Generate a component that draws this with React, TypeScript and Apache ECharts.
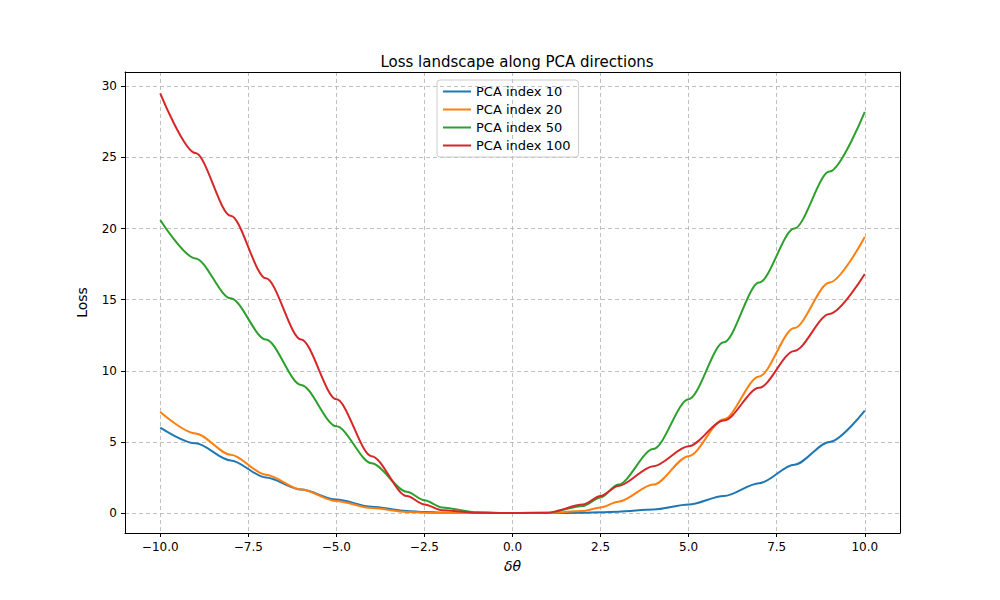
import React, { useEffect, useRef } from "react";
import * as echarts from "echarts";

const xs = [-10, -9, -8, -7, -6, -5, -4, -3, -2.5, -2, -1, 0, 1, 2, 2.5, 3, 4, 5, 6, 7, 8, 9, 10];
const pca10 = [6.0, 4.9, 3.7, 2.5, 1.65, 0.95, 0.45, 0.15, 0.07, 0.03, 0, 0, 0, 0.02, 0.05, 0.1, 0.25, 0.6, 1.2, 2.1, 3.4, 5.0, 7.2];
const pca20 = [7.1, 5.6, 4.1, 2.7, 1.65, 0.85, 0.35, 0.08, 0.02, 0, 0, 0, 0, 0.15, 0.4, 0.8, 2.0, 4.0, 6.6, 9.6, 13.0, 16.2, 19.4];
const pca50 = [20.6, 17.9, 15.1, 12.2, 9.0, 6.1, 3.5, 1.5, 0.9, 0.4, 0.05, 0, 0.02, 0.5, 1.1, 2.0, 4.5, 8.0, 12.0, 16.2, 20.0, 24.0, 28.2];
const pca100 = [29.5, 25.3, 20.9, 16.5, 12.2, 8.0, 4.0, 1.2, 0.6, 0.2, 0.02, 0, 0.03, 0.6, 1.2, 1.9, 3.3, 4.7, 6.5, 8.8, 11.4, 14.0, 16.8];
const xTicks = [-10, -7.5, -5, -2.5, 0, 2.5, 5, 7.5, 10];
const yTicks = [0, 5, 10, 15, 20, 25, 30];

const seriesDefs = [
  { name: "PCA index 10", data: pca10, color: "#1f77b4" },
  { name: "PCA index 20", data: pca20, color: "#ff7f0e" },
  { name: "PCA index 50", data: pca50, color: "#2ca02c" },
  { name: "PCA index 100", data: pca100, color: "#d62728" },
];

const font = "DejaVu Sans";

const App = () => {
  const ref = useRef<HTMLDivElement>(null);

  useEffect(() => {
    const chart = echarts.init(ref.current!, null, { renderer: "svg" });
    const grid = { color: "#b0b0b0", type: [4, 3] as number[], width: 0.8 };
    const frame = {
      type: "value",
      min: -11,
      max: 11,
      axisLine: { show: true, onZero: false, lineStyle: { color: "#000" } },
      axisTick: { show: false },
      axisLabel: { show: false },
      splitLine: { show: false },
    };
    chart.setOption({
      animation: false,
      textStyle: { fontFamily: font },
      title: {
        text: "Loss landscape along PCA directions",
        left: 504,
        top: 41,
        textAlign: "center",
        textStyle: { fontFamily: font, fontSize: 15, fontWeight: "normal", color: "#000" },
      },
      legend: {
        orient: "vertical",
        left: 429,
        top: 72,
        padding: [5, 8, 5, 6],
        itemGap: 5,
        itemWidth: 28,
        itemHeight: 10,
        borderColor: "#ccc",
        borderWidth: 1,
        borderRadius: 3,
        icon: "path://M0,4 L28,4 L28,6 L0,6 Z",
        textStyle: { fontFamily: font, fontSize: 13, color: "#000" },
        data: seriesDefs.map((s) => s.name),
      },
      grid: { left: 117, right: 92, top: 64, bottom: 59 },
      xAxis: [
        {
          type: "value",
          min: -11,
          max: 11,
          name: "δθ",
          nameLocation: "middle",
          nameGap: 26,
          nameTextStyle: { fontFamily: font, fontSize: 14, fontStyle: "italic", color: "#000" },
          axisLine: { onZero: false, lineStyle: { color: "#000" } },
          axisTick: { customValues: xTicks, length: 4, lineStyle: { color: "#000" } },
          axisLabel: {
            customValues: xTicks,
            formatter: (v: number) => v.toFixed(1).replace("-", "−"),
            color: "#000",
            fontSize: 12,
            margin: 8,
          },
          splitLine: { show: true, lineStyle: grid },
        },
        { ...frame, position: "top" },
      ],
      yAxis: [
        {
          type: "value",
          min: -1.4,
          max: 31,
          name: "Loss",
          nameLocation: "middle",
          nameGap: 36,
          nameTextStyle: { fontFamily: font, fontSize: 14, color: "#000" },
          axisLine: { show: true, onZero: false, lineStyle: { color: "#000" } },
          axisTick: { show: true, customValues: yTicks, length: 4, lineStyle: { color: "#000" } },
          axisLabel: { customValues: yTicks, color: "#000", fontSize: 12, margin: 8 },
          splitLine: { show: true, lineStyle: grid },
        },
        { ...frame, min: -1.4, max: 31, position: "right" },
      ],
      series: seriesDefs.map((s) => ({
        name: s.name,
        type: "line",
        smooth: 0.3,
        smoothMonotone: "x",
        showSymbol: false,
        color: s.color,
        lineStyle: { width: 2, color: s.color },
        data: xs.map((x, i) => [x, s.data[i]]),
      })),
    });
    return () => chart.dispose();
  }, []);

  return <div ref={ref} style={{ width: 984, height: 584 }} />;
};

export default App;
